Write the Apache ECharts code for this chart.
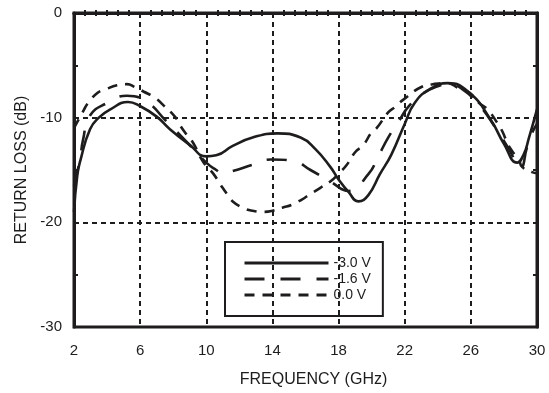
<!DOCTYPE html>
<html>
<head>
<meta charset="utf-8">
<script src="https://cdn.jsdelivr.net/npm/echarts@6/dist/echarts.min.js"></script>
<style>html,body{margin:0;padding:0;background:#fff}#c{width:549px;height:393px}</style>
</head>
<body>
<div id="c"></div>
<script>
// Frequency (GHz) and return loss (dB) for each bias
var freqA = [2.0, 2.2, 2.4, 2.97, 3.5, 4.2, 5.27, 6.0, 7.0, 7.8, 9.0, 10.0, 10.6, 11.6, 12.8, 14.3, 15.7, 16.6, 17.5, 18.0, 18.6, 19.2, 19.8, 20.5, 21.2, 22.0, 22.6, 23.5, 24.6, 25.9, 27.2, 28.0, 28.8, 29.2, 29.5, 30.0];
var lossA = [-19.0, -15.5, -14.0, -11.1, -10.0, -9.2, -8.5, -8.9, -9.9, -11.1, -12.6, -13.7, -13.6, -12.7, -11.9, -11.5, -11.9, -13.0, -14.7, -15.9, -17.1, -18.0, -17.4, -15.4, -13.5, -10.6, -8.6, -7.3, -6.7, -7.6, -10.2, -12.5, -14.3, -13.5, -12.0, -9.2];

var freqB = [2.0, 2.36, 2.55, 2.97, 4.0, 5.2, 6.4, 7.5, 8.8, 10.0, 10.6, 11.0, 11.6, 12.8, 13.9, 15.2, 16.3, 17.5, 18.6, 19.8, 20.4, 21.0, 21.7, 22.2, 23.0, 24.0, 24.7, 25.5, 26.5, 27.5, 28.3, 29.0, 29.4, 29.75, 30.0];
var lossB = [-16.5, -14.0, -12.1, -9.8, -8.6, -7.9, -8.5, -10.2, -12.3, -14.3, -15.0, -15.3, -15.1, -14.5, -14.0, -14.1, -15.0, -16.1, -17.0, -15.4, -13.7, -11.9, -10.2, -9.0, -7.8, -7.0, -6.8, -7.3, -8.8, -11.0, -13.0, -14.8, -12.8, -11.3, -10.6];

var freqC = [2.0, 2.55, 2.85, 3.45, 3.9, 4.6, 5.2, 5.7, 6.2, 6.9, 7.4, 8.1, 8.4, 8.8, 9.2, 9.8, 10.4, 10.9, 11.3, 11.6, 12.2, 12.8, 13.5, 14.0, 14.6, 15.2, 15.8, 16.1, 16.9, 17.5, 18.1, 18.5, 19.0, 19.5, 20.0, 20.3, 21.0, 21.4, 21.9, 23.1, 23.7, 24.5, 25.3, 25.9, 26.5, 27.0, 27.6, 27.9, 28.2, 28.5, 28.9, 29.1, 29.7, 30.0];
var lossC = [-11.0, -9.4, -8.6, -7.6, -7.3, -6.9, -6.8, -7.1, -7.5, -8.1, -8.8, -9.9, -10.7, -11.6, -12.4, -14.2, -15.3, -16.5, -17.4, -18.0, -18.6, -18.9, -19.0, -18.9, -18.6, -18.3, -17.8, -17.5, -16.7, -16.1, -15.2, -14.5, -13.3, -12.6, -11.4, -11.0, -9.5, -9.0, -8.3, -7.0, -6.8, -6.7, -7.2, -7.6, -8.6, -9.2, -10.5, -11.3, -12.4, -13.2, -14.0, -14.7, -15.2, -15.3];

var seriesNames = ['-3.0 V', '-1.6 V', '0.0 V'];
var xTicks = [2, 6, 10, 14, 18, 22, 26, 30];
var yTicks = [-30, -20, -10, 0];

function pairs(xs, ys) { return xs.map(function (x, i) { return [x, ys[i]]; }); }

var ink = '#1e1c1d';
var font = '"Liberation Sans", Arial, sans-serif';
var gridLine = { show: true, lineStyle: { color: ink, width: 2, type: [5, 4] } };
var hiddenTick = { show: false, inside: true };

var chart = echarts.init(document.getElementById('c'), null, { renderer: 'canvas' });
chart.setOption({
  animation: false,
  backgroundColor: '#fff',
  grid: { left: 74, right: 12, top: 13, bottom: 65, show: true, borderColor: ink, borderWidth: 3, backgroundColor: 'transparent' },
  legend: {
    orient: 'vertical', left: 225, top: 242,
    data: seriesNames,
    itemWidth: 84, itemHeight: 12, itemGap: 2, itemTextGap: 12,
    padding: [14, 12, 14, 18],
    borderColor: ink, borderWidth: 2, borderRadius: 0,
    itemStyle: { opacity: 0 },
    lineStyle: { width: 3 },
    textStyle: { color: ink, fontSize: 14, fontFamily: font },
    selectedMode: false
  },
  xAxis: [{
    type: 'value', min: xTicks[0], max: xTicks[xTicks.length - 1], interval: xTicks[1] - xTicks[0],
    position: 'bottom',
    axisLine: { show: true, lineStyle: { color: ink, width: 3 } },
    axisTick: hiddenTick,
    minorTick: { show: true, splitNumber: 6, length: 3, lineStyle: { color: ink, width: 2 } },
    axisLabel: { color: ink, fontSize: 15, fontFamily: font, margin: 16 },
    splitLine: gridLine,
    name: 'FREQUENCY (GHz)', nameLocation: 'middle', nameGap: 45,
    nameTextStyle: { color: ink, fontSize: 16, fontFamily: font, padding: [0, 0, 0, 16] }
  }, {
    type: 'value', min: xTicks[0], max: xTicks[xTicks.length - 1], interval: xTicks[1] - xTicks[0],
    position: 'top',
    axisLine: { show: true, lineStyle: { color: ink, width: 3 } },
    axisTick: hiddenTick,
    minorTick: { show: true, splitNumber: 6, length: 3, lineStyle: { color: ink, width: 2 } },
    axisLabel: { show: false }, splitLine: { show: false }
  }],
  yAxis: [{
    type: 'value', min: yTicks[0], max: yTicks[yTicks.length - 1], interval: yTicks[1] - yTicks[0],
    position: 'left',
    axisLine: { show: true, lineStyle: { color: ink, width: 3 } },
    axisTick: hiddenTick,
    minorTick: { show: true, splitNumber: 2, length: 4, lineStyle: { color: ink, width: 2 } },
    axisLabel: { color: ink, fontSize: 15, fontFamily: font, margin: 12 },
    splitLine: gridLine,
    name: 'RETURN LOSS (dB)', nameLocation: 'middle', nameGap: 43,
    nameTextStyle: { color: ink, fontSize: 16, fontFamily: font }
  }, {
    type: 'value', min: yTicks[0], max: yTicks[yTicks.length - 1], interval: yTicks[1] - yTicks[0],
    position: 'right',
    axisLine: { show: true, lineStyle: { color: ink, width: 3 } },
    axisTick: hiddenTick,
    minorTick: { show: true, splitNumber: 2, length: 4, lineStyle: { color: ink, width: 2 } },
    axisLabel: { show: false }, splitLine: { show: false }
  }],
  series: [
    { name: seriesNames[0], type: 'line', data: pairs(freqA, lossA), smooth: true, symbol: 'none',
      lineStyle: { color: ink, width: 2.6, type: 'solid' }, itemStyle: { color: ink } },
    { name: seriesNames[1], type: 'line', data: pairs(freqB, lossB), smooth: true, symbol: 'none',
      lineStyle: { color: ink, width: 2.6, type: [20, 16] }, itemStyle: { color: ink } },
    { name: seriesNames[2], type: 'line', data: pairs(freqC, lossC), smooth: true, symbol: 'none',
      lineStyle: { color: ink, width: 2.6, type: [10, 8] }, itemStyle: { color: ink } }
  ]
});
</script>
</body>
</html>
